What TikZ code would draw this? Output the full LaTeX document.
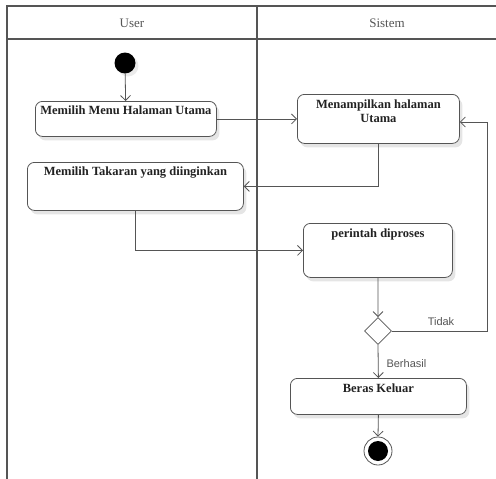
\documentclass[tikz,border=0pt]{standalone}
\usepackage{fontspec}
\setmainfont{Liberation Serif}
\newfontfamily\guardfont{Liberation Sans}
\usetikzlibrary{arrows.meta,shapes.geometric,calc,shadows}
\definecolor{linegray}{HTML}{555555}
\definecolor{textgray}{HTML}{222222}
\begin{document}
\begin{tikzpicture}[x=1pt,y=-1pt,
  lane/.style={draw=linegray, line width=1.2pt},
  act/.style={draw=linegray, line width=0.8pt, fill=white, rounded corners=7pt,
    inner sep=0pt, anchor=north west,
    drop shadow={shadow xshift=3pt, shadow yshift=-4pt, opacity=0.10, fill=black}},
  acttext/.style={font=\bfseries\fontsize{12.5}{13.5}\selectfont, text=textgray,
    align=center, anchor=north, inner sep=0pt},
  head/.style={font=\fontsize{13}{15}\selectfont, text=linegray},
  flow/.style={draw=linegray, line width=0.8pt, -{Straight Barb[length=5pt,width=10pt]}},
  guard/.style={font=\guardfont\fontsize{11}{13}\selectfont, text=linegray},
]
\useasboundingbox (0,0) rectangle (496,479);
\fill[white] (0,0) rectangle (496,479);

% swimlanes
\draw[lane] (7,479) -- (7,6) -- (496,6);
\draw[lane] (7,39) -- (496,39);
\draw[lane] (257,6) -- (257,479);
\node[head] (hUser) at (132,23) {User};
\node[head] (hSys) at (387,23) {Sistem};

% start and end
\node[circle, fill=black, minimum size=21pt, inner sep=0pt,
  drop shadow={shadow xshift=3pt, shadow yshift=-3pt, opacity=0.08, fill=black}] (start) at (125,63) {};
\node[circle, draw=linegray, line width=0.8pt, fill=white, minimum size=28pt, inner sep=0pt] (stop) at (378,451) {};
\node[circle, fill=black, minimum size=20pt, inner sep=0pt] (stopdot) at (378,451) {};

% activities
\node[act, minimum width=181pt, minimum height=35pt] (b1) at (35,101) {};
\node[acttext] (t1) at ($(b1.north)+(0,5)$) {Memilih Menu Halaman Utama};

\node[act, minimum width=216pt, minimum height=48pt] (b2) at (27,162) {};
\node[acttext] (t2) at ($(b2.north)+(0,5)$) {Memilih Takaran yang diinginkan};

\node[act, minimum width=162pt, minimum height=49pt] (b3) at (297,94) {};
\node[acttext] (t3) at ($(b3.north)+(0,6)$) {Menampilkan halaman\\Utama};

\node[act, minimum width=149pt, minimum height=54pt] (b4) at (303,223) {};
\node[acttext] (t4) at ($(b4.north)+(0,6)$) {perintah diproses};

\node[act, minimum width=176pt, minimum height=36pt] (b5) at (290,378) {};
\node[acttext] (t5) at ($(b5.north)+(0,6)$) {Beras Keluar};

% decision
\node[diamond, draw=linegray, line width=0.8pt, fill=white, aspect=1,
  minimum width=27pt, minimum height=27pt, inner sep=0pt] (dec) at (378,331) {};

% flows
\draw[flow] (start) -- (b1);
\draw[flow] (b1.east) -- (b3.west);
\draw[flow] (b3.south) |- (b2.east);
\draw[flow] (b2.south) |- (b4.west);
\draw[flow] (b4.south) -- (dec.north);
\coordinate (loop) at (487,122);
\draw[flow] (dec.east) -| (loop) -- (b3.east |- loop);
\node[guard, anchor=south] (lNo) at (441,329) {Tidak};
\draw[flow] (dec.south) -- (b5.north);
\node[guard, anchor=west] (lYes) at (383,364) {Berhasil};
\draw[flow] (b5.south) -- (stop.north);
\end{tikzpicture}
\end{document}
